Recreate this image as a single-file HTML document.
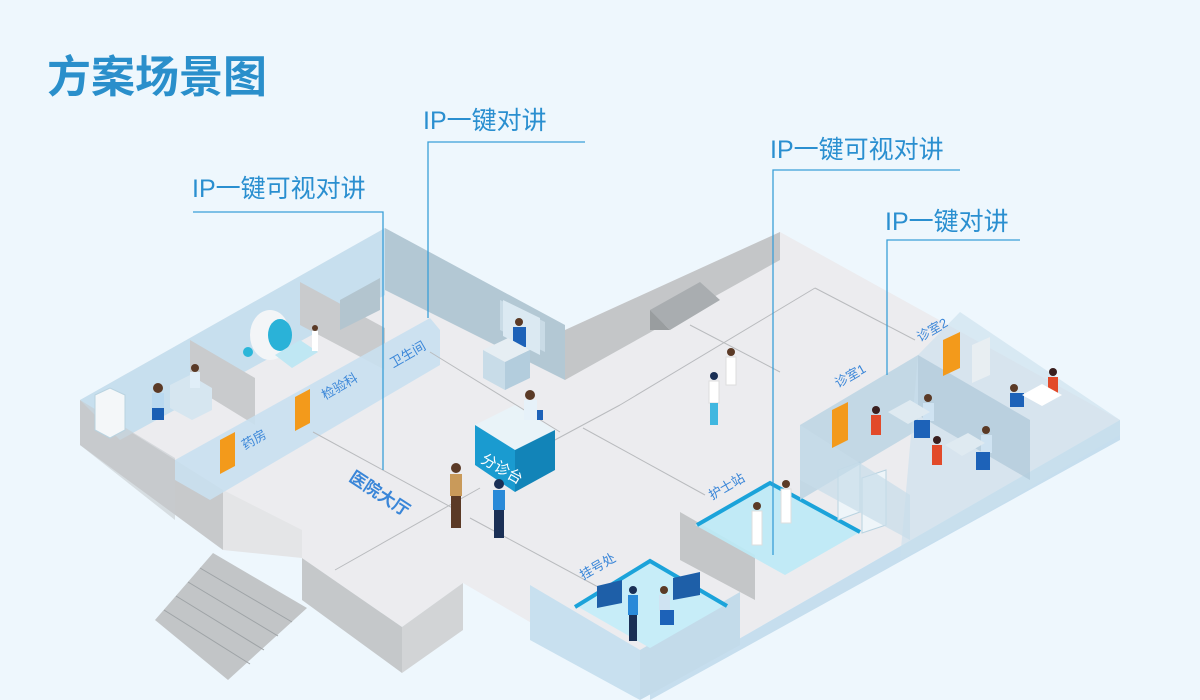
<!DOCTYPE html>
<html><head><meta charset="utf-8"><style>
html,body{margin:0;padding:0;background:#eef7fd;}
svg{display:block}
text{font-family:"Liberation Sans","Noto Sans CJK SC",sans-serif;}
</style></head><body>
<svg width="1200" height="700" viewBox="0 0 1200 700" xmlns="http://www.w3.org/2000/svg">
<rect width="1200" height="700" fill="#eef7fd"/>
<text x="47" y="92" font-size="44" font-weight="bold" fill="#2a8fcb">方案场景图</text>

<!-- floor top -->
<polygon points="80,400 385,228 565,330 780,232 1120,420 650,690 540,628 463,583 402,627 302,558 223,500" fill="#ececef"/>
<!-- left wing front slab -->
<polygon points="80,400 223,490 223,550 80,445" fill="#c7c9cb"/>
<polygon points="223,490 302,530 302,558 223,550" fill="#e4e5e7"/>
<!-- stairs -->
<polygon points="213,553 307,608 228,680 155,620" fill="#c2c5c7"/>
<g stroke="#9ea3a6" stroke-width="1">
<line x1="200" y1="568" x2="292" y2="622"/><line x1="188" y1="582" x2="278" y2="636"/><line x1="176" y1="596" x2="264" y2="650"/><line x1="164" y1="610" x2="250" y2="664"/>
</g>
<!-- hall front block -->
<polygon points="302,558 402,627 402,673 302,600" fill="#c5c8ca"/>
<polygon points="402,627 463,583 463,630 402,673" fill="#d2d4d6"/>
<!-- left wing back wall -->
<polygon points="80,400 385,228 385,295 120,440" fill="#c7dfee"/>
<!-- gray wall right of left wing -->
<polygon points="385,228 565,325 565,380 385,290" fill="#b3c8d4"/>
<polygon points="500,300 545,322 545,352 500,330" fill="#c9dbe6"/>
<!-- back wall hall right -->
<polygon points="565,330 780,232 780,260 565,380" fill="#c4c6c8"/>
<polygon points="650,310 700,282 720,300 670,330" fill="#a9adb0"/>
<polygon points="650,310 670,330 650,330" fill="#999d9f"/>
<!-- left wing partitions -->
<polygon points="190,340 255,378 255,425 190,385" fill="#c9cbcd"/>
<polygon points="300,282 385,328 385,370 300,325" fill="#c9cbcd"/>
<polygon points="340,300 380,278 380,310 340,330" fill="#b3c5cf"/>
<!-- left wing front translucent wall -->
<polygon points="175,460 430,318 440,330 440,365 210,500 175,480" fill="#c9e0ef" opacity="0.9"/>
<polygon points="80,400 175,458 175,520 80,445" fill="#c6cbcf" opacity="0.6"/>
<!-- doors -->
<polygon points="220,440 235,432 235,466 220,474" fill="#f39a1b"/>
<polygon points="295,397 310,389 310,423 295,431" fill="#f39a1b"/>
<text transform="translate(245,450) rotate(-30)" font-size="13" fill="#3a86d8">药房</text>
<text transform="translate(325,400) rotate(-30)" font-size="13" fill="#3a86d8">检验科</text>
<text transform="translate(393,368) rotate(-30)" font-size="13" fill="#3a86d8">卫生间</text>
<!-- pharmacy / room furniture -->
<polygon points="95,395 110,388 125,395 125,430 110,438 95,430" fill="#f4f7f9" stroke="#b9d3e0"/>
<polygon points="170,385 190,375 212,388 212,410 192,420 170,408" fill="#d6e6f0"/>
<circle cx="158" cy="388" r="5" fill="#5b3a26"/><rect x="152" y="393" width="12" height="20" fill="#b9d9f0"/><rect x="152" y="408" width="12" height="12" fill="#1a5fb4"/>
<circle cx="195" cy="368" r="4" fill="#5b3a26"/><rect x="190" y="372" width="10" height="16" fill="#e0eef8"/>
<!-- MRI -->
<ellipse cx="270" cy="335" rx="20" ry="25" fill="#f3f5f7"/>
<ellipse cx="280" cy="335" rx="12" ry="16" fill="#2ab2d8"/>
<polygon points="275,355 300,340 318,352 292,368" fill="#bfe7f3"/>
<circle cx="315" cy="328" r="3" fill="#5b3a26"/><rect x="312" y="331" width="6" height="20" fill="#ffffff"/>
<circle cx="248" cy="352" r="5" fill="#2bb6d9"/>
<!-- reception in back -->
<polygon points="503,300 540,318 540,355 503,336" fill="#dbe9f2"/>
<circle cx="519" cy="322" r="4" fill="#5b3a26"/><rect x="513" y="327" width="13" height="20" fill="#1d62b8"/>
<polygon points="483,350 508,338 530,350 505,362" fill="#e6eef3"/>
<polygon points="483,350 505,362 505,390 483,378" fill="#c8dce8"/>
<polygon points="505,362 530,350 530,378 505,390" fill="#b3cddd"/>
<!-- floor lines -->
<g stroke="#b9bbbe" stroke-width="1" fill="none">
<line x1="313" y1="432" x2="460" y2="512"/>
<line x1="470" y1="518" x2="600" y2="588"/>
<line x1="335" y1="570" x2="480" y2="488"/>
<line x1="430" y1="352" x2="560" y2="432"/>
<line x1="540" y1="448" x2="620" y2="405"/>
<line x1="583" y1="428" x2="705" y2="495"/>
<line x1="620" y1="405" x2="815" y2="288"/>
<line x1="815" y1="288" x2="915" y2="340"/>
<line x1="690" y1="325" x2="780" y2="372"/>
</g>
<!-- triage desk -->
<polygon points="475,425 515,405 555,430 515,450" fill="#e9f3f8"/>
<polygon points="475,425 515,450 515,492 475,465" fill="#1a9bd0"/>
<polygon points="515,450 555,430 555,470 515,492" fill="#1284b8"/>
<circle cx="530" cy="395" r="5" fill="#5b3a26"/><rect x="524" y="400" width="13" height="20" fill="#e6f1f9"/><rect x="537" y="410" width="6" height="10" fill="#1d62b8"/>
<text transform="translate(480,462) rotate(30)" font-size="15" fill="#ffffff">分诊台</text>
<text transform="translate(348,480) rotate(33)" font-size="17" font-weight="bold" fill="#3a86d8">医院大厅</text>
<!-- people in hall -->
<circle cx="456" cy="468" r="5" fill="#5b3a26"/><rect x="450" y="474" width="12" height="22" fill="#c99a5a"/><rect x="451" y="496" width="10" height="32" fill="#5b3a26"/>
<circle cx="499" cy="484" r="5" fill="#1a2f55"/><rect x="493" y="490" width="12" height="20" fill="#2a8ad8"/><rect x="494" y="510" width="10" height="28" fill="#1a2f55"/>
<!-- doctors hall -->
<circle cx="731" cy="352" r="4" fill="#5b3a26"/><rect x="726" y="357" width="10" height="28" fill="#ffffff" stroke="#ddd"/>
<circle cx="714" cy="376" r="4" fill="#1a2f55"/><rect x="709" y="381" width="10" height="22" fill="#ffffff" stroke="#ddd"/><rect x="710" y="403" width="8" height="22" fill="#40b7e0"/>
<!-- right wing front base -->
<polygon points="650,690 1120,420 1120,440 650,700" fill="#c6deee"/>
<!-- nurse station gray partition -->
<polygon points="680,512 755,555 755,600 680,560" fill="#c4c6c8"/>
<!-- nurse station -->
<polygon points="695,525 770,482 860,532 785,575" fill="#bdeaf6" opacity="0.9"/>
<polyline points="697,525 770,483 860,532" fill="none" stroke="#1ba3da" stroke-width="4"/>
<circle cx="757" cy="506" r="4" fill="#5b3a26"/><rect x="752" y="511" width="10" height="34" fill="#fff" stroke="#ddd"/>
<circle cx="786" cy="484" r="4" fill="#5b3a26"/><rect x="781" y="489" width="10" height="34" fill="#fff" stroke="#ddd"/>
<text transform="translate(712,500) rotate(-30)" font-size="13" fill="#3a86d8">护士站</text>
<!-- cabinets -->
<polygon points="838,470 860,462 860,512 838,520" fill="#eef5f9" stroke="#b9d3e0"/>
<polygon points="862,478 886,470 886,525 862,533" fill="#eef5f9" stroke="#b9d3e0"/>
<!-- clinic rooms -->
<polygon points="800,425 918,355 918,430 800,500" fill="#b9d3e2" opacity="0.8"/>
<polygon points="918,355 960,312 1120,420 1120,435 1000,505 900,560" fill="#c9dfec" opacity="0.6"/>
<polygon points="918,355 1030,420 1030,480 918,415" fill="#aec8d8" opacity="0.7"/>
<polygon points="800,425 910,495 910,540 800,480" fill="#c8dde9" opacity="0.7"/>
<polygon points="832,410 848,402 848,440 832,448" fill="#f39a1b"/>
<polygon points="943,340 960,332 960,368 943,376" fill="#f39a1b"/>
<polygon points="972,345 990,337 990,375 972,383" fill="#e8eef2"/>
<text transform="translate(838,388) rotate(-30)" font-size="13" fill="#3a86d8">诊室1</text>
<text transform="translate(920,342) rotate(-30)" font-size="13" fill="#3a86d8">诊室2</text>
<!-- clinic people -->
<circle cx="876" cy="410" r="4" fill="#3a1f1f"/><rect x="871" y="415" width="10" height="20" fill="#e24a2a"/>
<circle cx="928" cy="398" r="4" fill="#5b3a26"/><rect x="923" y="403" width="11" height="18" fill="#cfe3f2"/><rect x="914" y="420" width="16" height="18" fill="#1d62b8"/>
<polygon points="888,412 910,400 930,412 908,424" fill="#dfeaf1"/>
<circle cx="937" cy="440" r="4" fill="#3a1f1f"/><rect x="932" y="445" width="10" height="20" fill="#e24a2a"/>
<circle cx="986" cy="430" r="4" fill="#5b3a26"/><rect x="981" y="435" width="11" height="18" fill="#cfe3f2"/><rect x="976" y="452" width="14" height="18" fill="#1d62b8"/>
<polygon points="945,445 968,433 985,443 962,456" fill="#dfeaf1"/>
<circle cx="1053" cy="372" r="4" fill="#3a1f1f"/><rect x="1048" y="377" width="10" height="18" fill="#e24a2a"/>
<circle cx="1014" cy="388" r="4" fill="#5b3a26"/><rect x="1010" y="393" width="14" height="14" fill="#1d62b8"/>
<polygon points="1022,395 1042,384 1062,395 1042,406" fill="#ffffff"/>
<!-- registration room -->
<polygon points="530,585 640,650 640,700 530,640" fill="#c8e0ef"/>
<polygon points="640,650 740,592 740,645 640,700" fill="#c3dbea"/>
<polygon points="575,605 650,560 725,605 650,648" fill="#c7edf8"/>
<polyline points="575,607 650,561 727,606" fill="none" stroke="#1ba3da" stroke-width="4"/>
<polygon points="597,586 622,580 622,603 597,608" fill="#1e5fa8"/>
<polygon points="673,578 700,572 700,595 673,600" fill="#1e5fa8"/>
<circle cx="633" cy="590" r="4" fill="#1a2f55"/><rect x="628" y="595" width="10" height="20" fill="#2a8ad8"/><rect x="629" y="615" width="8" height="26" fill="#1a2f55"/>
<circle cx="664" cy="590" r="4" fill="#5b3a26"/><rect x="659" y="595" width="11" height="16" fill="#cfe3f2"/><rect x="660" y="610" width="14" height="15" fill="#1d62b8"/>
<text transform="translate(583,580) rotate(-30)" font-size="13" fill="#3a86d8">挂号处</text>

<!-- callouts -->
<g stroke="#3a9fd8" stroke-width="1.3" fill="none">
<polyline points="193,212 383,212 383,470"/>
<polyline points="428,318 428,142 585,142"/>
<polyline points="773,555 773,170 960,170"/>
<polyline points="887,375 887,240 1020,240"/>
</g>
<g font-size="25" fill="#2a8fd0">
<text x="192" y="197">IP一键可视对讲</text>
<text x="423" y="129">IP一键对讲</text>
<text x="770" y="158">IP一键可视对讲</text>
<text x="885" y="230">IP一键对讲</text>
</g>
</svg>
</body></html>
